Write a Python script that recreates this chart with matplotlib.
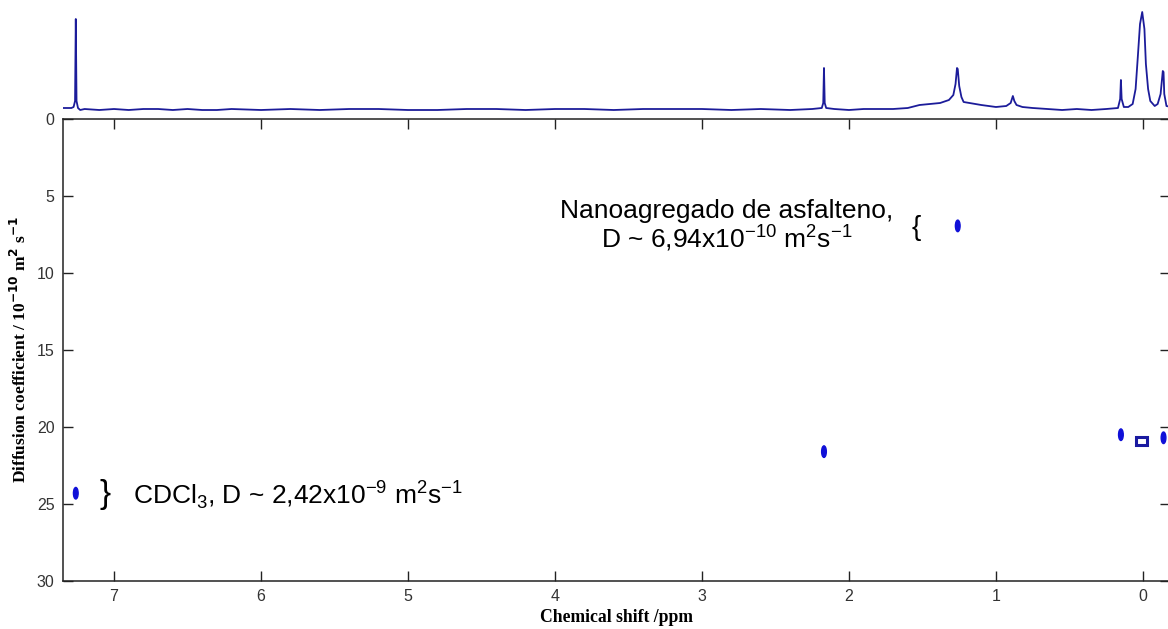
import matplotlib
matplotlib.use("Agg")
import matplotlib.pyplot as plt
from matplotlib.patches import Ellipse, Rectangle

# 1H spectrum (projection on top), read point by point
shift_ppm = [7.35, 7.32, 7.29, 7.275, 7.265, 7.26, 7.255, 7.245, 7.23, 7.20,
             7.10, 7.00, 6.90, 6.80, 6.70, 6.60, 6.50, 6.40, 6.30, 6.20,
             6.00, 5.80, 5.60, 5.40, 5.20, 5.00, 4.80, 4.60, 4.40, 4.20,
             4.00, 3.80, 3.60, 3.40, 3.20, 3.00, 2.80, 2.60, 2.40, 2.25,
             2.185, 2.175, 2.17, 2.165, 2.155, 2.10, 2.00, 1.90, 1.80, 1.70,
             1.60, 1.52, 1.45, 1.38, 1.32, 1.29, 1.275, 1.265, 1.26, 1.25,
             1.235, 1.22, 1.18, 1.10, 1.00, 0.93, 0.90, 0.885, 0.875, 0.86,
             0.82, 0.75, 0.65, 0.55, 0.45, 0.35, 0.25, 0.17, 0.155, 0.15,
             0.145, 0.13, 0.10, 0.07, 0.05, 0.035, 0.02, 0.005, -0.01, -0.02,
             -0.035, -0.05, -0.08, -0.10, -0.12, -0.135, -0.14, -0.145, -0.16, -0.19]
intensity = [0.11, 0.11, 0.11, 0.12, 0.18, 1.00, 0.18, 0.11, 0.09, 0.10,
             0.09, 0.10, 0.09, 0.10, 0.10, 0.09, 0.10, 0.09, 0.09, 0.10,
             0.09, 0.10, 0.09, 0.10, 0.10, 0.09, 0.09, 0.10, 0.10, 0.09,
             0.10, 0.10, 0.09, 0.10, 0.10, 0.10, 0.09, 0.10, 0.09, 0.10,
             0.11, 0.16, 0.51, 0.16, 0.11, 0.10, 0.09, 0.10, 0.10, 0.10,
             0.11, 0.14, 0.15, 0.16, 0.19, 0.24, 0.35, 0.51, 0.50, 0.33,
             0.22, 0.17, 0.16, 0.14, 0.12, 0.13, 0.16, 0.23, 0.18, 0.14,
             0.12, 0.11, 0.10, 0.09, 0.10, 0.09, 0.10, 0.11, 0.20, 0.39,
             0.20, 0.12, 0.12, 0.15, 0.30, 0.62, 0.95, 1.07, 0.90, 0.55,
             0.30, 0.18, 0.13, 0.15, 0.25, 0.48, 0.47, 0.25, 0.13, 0.12]

# DOSY cross peaks: chemical shift, diffusion coefficient (1e-10 m2/s)
peak_ppm = [7.26, 2.17, 1.26, 0.15, 0.01, -0.14]
peak_D = [24.3, 21.6, 6.94, 20.5, 20.9, 20.7]
peak_open = [False, False, False, False, True, False]

y_ticks = [0, 5, 10, 15, 20, 25, 30]
x_ticks = [7, 6, 5, 4, 3, 2, 1, 0]

W, H = 1168, 629
fig = plt.figure(figsize=(W / 100, H / 100), dpi=100)
left, right, top, bottom = 63, 1170, 119, 581
pos = [left / W, (H - bottom) / H, (right - left) / W, (bottom - top) / H]
ax = fig.add_axes(pos)
ax.set_xlim(7.347, -0.184)
ax.set_ylim(30, 0)
ax.set_xticks(x_ticks)
ax.set_yticks(y_ticks)
ax.tick_params(direction="in", length=7, width=1, top=True, right=True,
               labelsize=11.5, pad=6, colors="#222222")
for lab in ax.get_xticklabels() + ax.get_yticklabels():
    lab.set_family("Liberation Sans")
    lab.set_color("#333333")
for s in ax.spines.values():
    s.set_linewidth(1.1)
    s.set_color("#222222")

for x, d, hollow in zip(peak_ppm, peak_D, peak_open):
    if hollow:
        ax.add_patch(Rectangle((x + 0.04, d - 0.25), -0.08, 0.5, fill=False,
                               lw=2.2, ec="#1a1aa0"))
    else:
        ax.add_patch(Ellipse((x, d), 0.032, 0.75, color="#1010d8"))

ax.set_xlabel("Chemical shift /ppm", family="Liberation Serif",
              fontweight="bold", fontsize=12.7, labelpad=3)
ax.set_ylabel("Diffusion coefficient / 10$^{\\mathbf{-10}}$ m$^{\\mathbf{2}}$ s$^{\\mathbf{-1}}$",
              family="Liberation Serif", fontweight="bold", fontsize=12.5, labelpad=5)

ax.text(2.83, 6.95, "Nanoagregado de asfalteno,\nD ~ 6,94x10$^{\\mathregular{-10}}$ m$^{\\mathregular{2}}$s$^{\\mathregular{-1}}$",
        ha="center", va="center", multialignment="center", fontsize=19,
        family="Liberation Sans", linespacing=0.95)
ax.text(1.544, 7.08, "{", ha="center", va="center", fontsize=20,
        family="Liberation Sans", fontweight="light")
ax.text(7.06, 24.4, "}", ha="center", va="center", fontsize=24,
        family="Liberation Sans")
ax.text(6.87, 24.4, "CDCl$_{\\mathregular{3}}$, D ~ 2,42x10$^{\\mathregular{-9}}$ m$^{\\mathregular{2}}$s$^{\\mathregular{-1}}$",
        ha="left", va="center", fontsize=19, family="Liberation Sans")

# projection spectrum
spec = fig.add_axes([left / W, (H - top) / H, (right - left) / W, top / H])
spec.plot(shift_ppm, intensity, color="#1c1c9a", lw=1.3)
spec.set_xlim(ax.get_xlim())
spec.set_ylim(0, 1.19)
spec.axis("off")

fig.savefig("out.png", dpi=100)
